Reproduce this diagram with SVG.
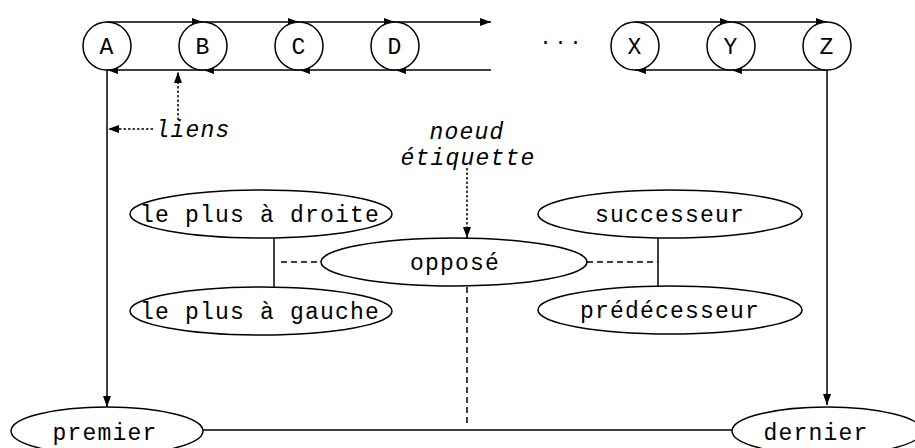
<svg xmlns="http://www.w3.org/2000/svg" width="915" height="448" viewBox="0 0 915 448">
<style>
text{font-family:"Liberation Mono","Courier New",monospace;font-size:23px;letter-spacing:1.2px;fill:#000;text-anchor:middle}
.it{font-style:italic}
.n{fill:#fff;stroke:#000;stroke-width:1.5}
.l{fill:none;stroke:#000;stroke-width:1.5}
.dash{stroke-dasharray:6 4}
.dot{stroke-dasharray:2.5 2}
</style>
<defs>
<marker id="ah" viewBox="0 0 11 8" refX="11" refY="4" markerWidth="11" markerHeight="8" markerUnits="userSpaceOnUse" orient="auto">
<path d="M0,0 L11,4 L0,8 z" fill="#000"/>
</marker>
</defs>
<g id="connectors">
<path class="l" d="M107,22 H203" marker-end="url(#ah)"/>
<path class="l" d="M203,22 H299" marker-end="url(#ah)"/>
<path class="l" d="M299,22 H395" marker-end="url(#ah)"/>
<path class="l" d="M395,22 H491" marker-end="url(#ah)"/>
<path class="l" d="M491,70 H395" marker-end="url(#ah)"/>
<path class="l" d="M395,70 H299" marker-end="url(#ah)"/>
<path class="l" d="M299,70 H203" marker-end="url(#ah)"/>
<path class="l" d="M203,70 H107" marker-end="url(#ah)"/>
<path class="l" d="M635,22 H731" marker-end="url(#ah)"/>
<path class="l" d="M731,22 H827" marker-end="url(#ah)"/>
<path class="l" d="M827,70 H731" marker-end="url(#ah)"/>
<path class="l" d="M731,70 H635" marker-end="url(#ah)"/>
<path class="l" d="M107,70 V407" marker-end="url(#ah)"/>
<path class="l" d="M827,70 V405" marker-end="url(#ah)"/>
<path class="l" d="M203,430 H732"/>
<path class="l dot" d="M153,129 H108" marker-end="url(#ah)"/>
<path class="l dot" d="M178,120 V72" marker-end="url(#ah)"/>
<path class="l dot" d="M467,168 V238" marker-end="url(#ah)"/>
<path class="l" d="M274,238 V287"/>
<path class="l dash" d="M281,262 H321"/>
<path class="l" d="M658,238 V286"/>
<path class="l dash" d="M587,262 H658"/>
<path class="l dash" d="M467,287 V426"/>
</g>
<g id="A"><circle class="n" cx="107" cy="46" r="24"/><text x="107" y="54">A</text></g>
<g id="B"><circle class="n" cx="203" cy="46" r="24"/><text x="203" y="54">B</text></g>
<g id="C"><circle class="n" cx="299" cy="46" r="24"/><text x="299" y="54">C</text></g>
<g id="D"><circle class="n" cx="395" cy="46" r="24"/><text x="395" y="54">D</text></g>
<g id="dots"><text x="562" y="44" style="font-size:20px;letter-spacing:3px">...</text></g>
<g id="X"><circle class="n" cx="635" cy="46" r="24"/><text x="635" y="54">X</text></g>
<g id="Y"><circle class="n" cx="731" cy="46" r="24"/><text x="731" y="54">Y</text></g>
<g id="Z"><circle class="n" cx="827" cy="46" r="24"/><text x="827" y="54">Z</text></g>
<g id="liens"><text class="it" x="193" y="137">liens</text></g>
<g id="noeud-etiquette"><text class="it" x="467" y="139">noeud</text><text class="it" x="468" y="165">étiquette</text></g>
<g id="droite"><ellipse class="n" cx="261" cy="214" rx="131" ry="24"/><text x="260" y="222">le plus à droite</text></g>
<g id="gauche"><ellipse class="n" cx="261" cy="311" rx="131" ry="24"/><text x="260" y="319">le plus à gauche</text></g>
<g id="oppose"><ellipse class="n" cx="454" cy="262" rx="133" ry="24"/><text x="455" y="270">opposé</text></g>
<g id="successeur"><ellipse class="n" cx="670" cy="214" rx="132" ry="24"/><text x="670" y="222">successeur</text></g>
<g id="predecesseur"><ellipse class="n" cx="670" cy="310" rx="132" ry="24"/><text x="670" y="318">prédécesseur</text></g>
<g id="premier"><ellipse class="n" cx="107" cy="431" rx="96" ry="24"/><text x="105" y="440">premier</text></g>
<g id="dernier"><ellipse class="n" cx="827" cy="431" rx="95" ry="24"/><text x="816" y="440">dernier</text></g>
</svg>
